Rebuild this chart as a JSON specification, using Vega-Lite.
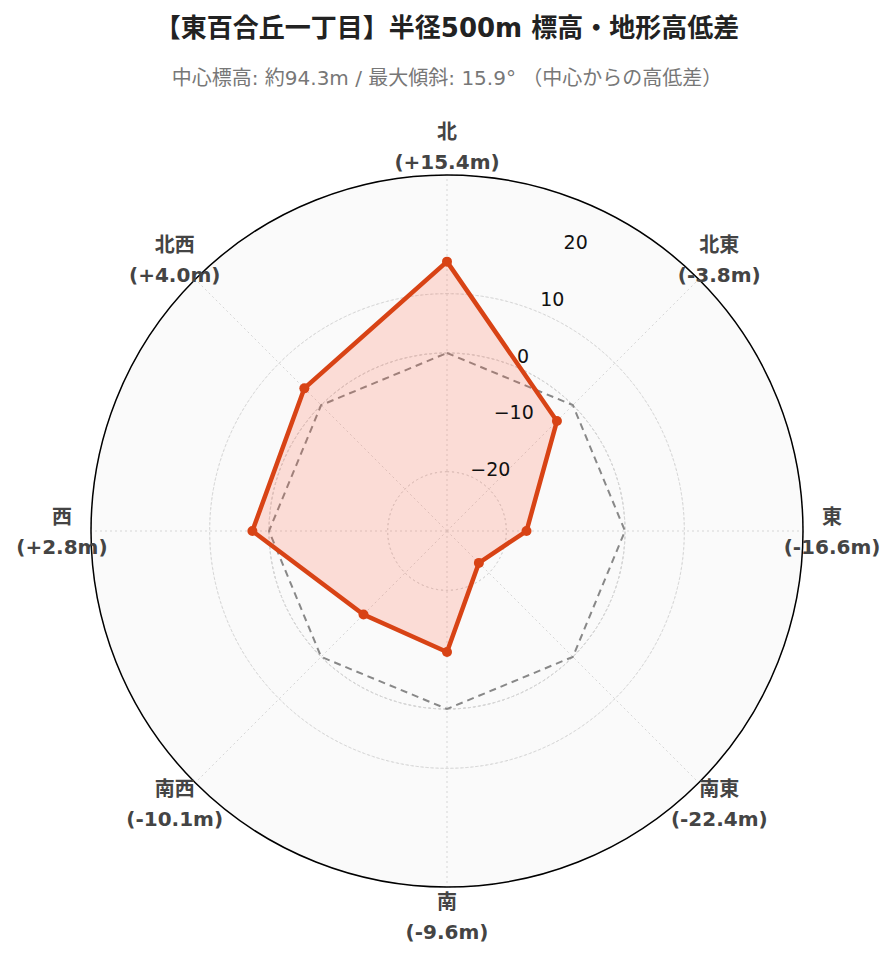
{
  "$schema": "https://vega.github.io/schema/vega-lite/v6.json",
  "description": "東百合丘一丁目 半径500m 標高・地形高低差 (radar)",
  "width": 712,
  "height": 712,
  "autosize": {"type": "none"},
  "padding": {"left": 91, "top": 175, "right": 93, "bottom": 75},
  "background": "white",
  "title": {
    "text": "【東百合丘一丁目】半径500m 標高・地形高低差",
    "subtitle": "中心標高: 約94.3m / 最大傾斜: 15.9° （中心からの高低差）",
    "anchor": "middle",
    "frame": "group",
    "offset": 34,
    "font": "DejaVu Sans, Noto Sans CJK JP",
    "fontSize": 26,
    "fontWeight": "bold",
    "color": "#222",
    "subtitleFont": "DejaVu Sans, Noto Sans CJK JP",
    "subtitleFontSize": 20,
    "subtitleColor": "#777",
    "subtitlePadding": 27
  },
  "datasets": {
    "dirs": [
      {"dir": "北", "value": 15.4},
      {"dir": "北東", "value": -3.8},
      {"dir": "東", "value": -16.6},
      {"dir": "南東", "value": -22.4},
      {"dir": "南", "value": -9.6},
      {"dir": "南西", "value": -10.1},
      {"dir": "西", "value": 2.8},
      {"dir": "北西", "value": 4.0}
    ],
    "ref": [
      {"dir": "北", "value": 0},
      {"dir": "北東", "value": 0},
      {"dir": "東", "value": 0},
      {"dir": "南東", "value": 0},
      {"dir": "南", "value": 0},
      {"dir": "南西", "value": 0},
      {"dir": "西", "value": 0},
      {"dir": "北西", "value": 0}
    ],
    "grid": [{"t": -20}, {"t": -10}, {"t": 0}, {"t": 10}, {"t": 20}]
  },
  "config": {"view": {"stroke": null}},
  "layer": [
    {
      "data": {"values": [{}]},
      "mark": {"type": "arc", "fill": "#fafafa", "radius": 356},
      "encoding": {}
    },
    {
      "data": {"name": "grid"},
      "mark": {"type": "arc", "filled": false, "stroke": "#d6d6d6", "strokeWidth": 1, "strokeDash": [2, 3]},
      "encoding": {
        "radius": {"field": "t", "type": "quantitative", "scale": {"type": "linear", "domain": [-30, 30], "range": [0, 356], "zero": false}}
      }
    },
    {
      "data": {"name": "dirs"},
      "transform": [
        {"calculate": "indexof(['北','北東','東','南東','南','南西','西','北西'], datum.dir)", "as": "k"},
        {"calculate": "datum.k * PI / 4", "as": "ang"},
        {"calculate": "60 * sin(datum.ang)", "as": "gx"},
        {"calculate": "60 * cos(datum.ang)", "as": "gy"},
        {"calculate": "0", "as": "c"}
      ],
      "mark": {"type": "rule", "stroke": "#d6d6d6", "strokeWidth": 1, "strokeDash": [2, 3]},
      "encoding": {
        "x": {"field": "c", "type": "quantitative", "scale": {"domain": [-60, 60]}, "axis": null},
        "y": {"field": "c", "type": "quantitative", "scale": {"domain": [-60, 60]}, "axis": null},
        "x2": {"field": "gx"},
        "y2": {"field": "gy"}
      }
    },
    {
      "data": {"values": [{}]},
      "mark": {"type": "arc", "filled": false, "stroke": "#000", "strokeWidth": 1.5, "radius": 356},
      "encoding": {}
    },
    {
      "data": {"name": "ref"},
      "transform": [
        {"calculate": "indexof(['北','北東','東','南東','南','南西','西','北西'], datum.dir)", "as": "k"},
        {"calculate": "datum.k * PI / 4", "as": "ang"},
        {"calculate": "(datum.value + 30) * sin(datum.ang)", "as": "px"},
        {"calculate": "(datum.value + 30) * cos(datum.ang)", "as": "py"}
      ],
      "mark": {"type": "line", "interpolate": "linear-closed", "stroke": "#888", "strokeWidth": 2, "strokeDash": [7, 5]},
      "encoding": {
        "x": {"field": "px", "type": "quantitative", "scale": {"domain": [-60, 60]}, "axis": null},
        "y": {"field": "py", "type": "quantitative", "scale": {"domain": [-60, 60]}, "axis": null},
        "order": {"field": "k", "type": "quantitative"}
      }
    },
    {
      "data": {"name": "dirs"},
      "transform": [
        {"calculate": "indexof(['北','北東','東','南東','南','南西','西','北西'], datum.dir)", "as": "k"},
        {"calculate": "datum.k * PI / 4", "as": "ang"},
        {"calculate": "(datum.value + 30) * sin(datum.ang)", "as": "px"},
        {"calculate": "(datum.value + 30) * cos(datum.ang)", "as": "py"}
      ],
      "layer": [
        {
          "mark": {"type": "line", "interpolate": "linear-closed", "fill": "#ff6347", "fillOpacity": 0.2, "stroke": "#d84315", "strokeWidth": 4.5},
          "encoding": {
            "x": {"field": "px", "type": "quantitative", "scale": {"domain": [-60, 60]}, "axis": null},
            "y": {"field": "py", "type": "quantitative", "scale": {"domain": [-60, 60]}, "axis": null},
            "order": {"field": "k", "type": "quantitative"}
          }
        },
        {
          "mark": {"type": "point", "filled": true, "color": "#d84315", "size": 100, "opacity": 1},
          "encoding": {
            "x": {"field": "px", "type": "quantitative"},
            "y": {"field": "py", "type": "quantitative"},
            "tooltip": [{"field": "dir"}, {"field": "value"}]
          }
        }
      ]
    },
    {
      "data": {"name": "grid"},
      "transform": [
        {"calculate": "(datum.t + 30) * 0.393", "as": "lx"},
        {"calculate": "(datum.t + 30) * 0.954", "as": "ly"},
        {"calculate": "format(datum.t, 'd')", "as": "lab"}
      ],
      "mark": {"type": "text", "align": "left", "baseline": "middle", "dy": -4.5, "font": "DejaVu Sans", "fontSize": 19, "color": "#111"},
      "encoding": {
        "x": {"field": "lx", "type": "quantitative"},
        "y": {"field": "ly", "type": "quantitative"},
        "text": {"field": "lab"}
      }
    },
    {
      "data": {"name": "dirs"},
      "transform": [
        {"calculate": "indexof(['北','北東','東','南東','南','南西','西','北西'], datum.dir)", "as": "k"},
        {"calculate": "datum.k * PI / 4", "as": "ang"},
        {"calculate": "64.9 * sin(datum.ang)", "as": "lx"},
        {"calculate": "64.9 * cos(datum.ang)", "as": "ly"},
        {"calculate": "datum.dir + '\\n(' + (datum.value >= 0 ? '+' : '-') + format(abs(datum.value), '.1f') + 'm)'", "as": "lab"}
      ],
      "mark": {"type": "text", "align": "center", "baseline": "middle", "dy": -13, "lineBreak": "\n", "lineHeight": 30, "font": "DejaVu Sans, Noto Sans CJK JP", "fontSize": 20, "fontWeight": "bold", "color": "#444"},
      "encoding": {
        "x": {"field": "lx", "type": "quantitative"},
        "y": {"field": "ly", "type": "quantitative"},
        "text": {"field": "lab"}
      }
    }
  ]
}
